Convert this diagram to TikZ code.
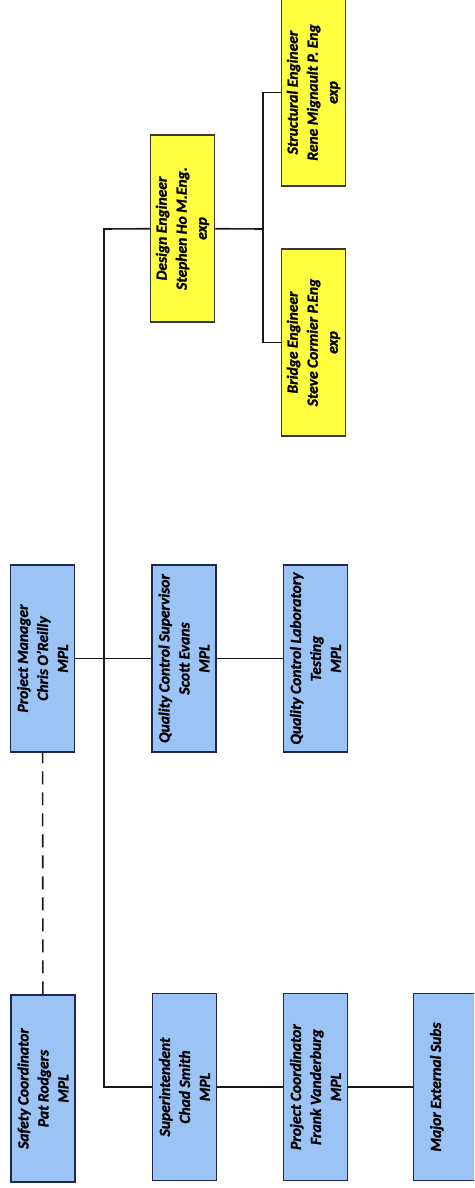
\documentclass[tikz,border=0pt]{standalone}
\usepackage{fontspec}
\setmainfont{Carlito}[BoldItalicFeatures={FakeBold=1.6}]
\definecolor{boxblue}{RGB}{155,195,245}
\definecolor{blueedge}{RGB}{30,40,80}
\definecolor{boxyellow}{RGB}{255,255,64}
\definecolor{yellowedge}{RGB}{55,55,55}
\definecolor{wire}{RGB}{25,25,25}
\begin{document}
\begin{tikzpicture}[x=1pt,y=-1pt,
  orgbox/.style={rotate=90, minimum width=187pt, minimum height=64pt, inner sep=0pt,
    align=center, font=\fontsize{15.5}{20}\selectfont\bfseries\itshape, line width=1.5pt},
  bluebox/.style={orgbox, fill=boxblue, draw=blueedge},
  yellowbox/.style={orgbox, fill=boxyellow, draw=yellowedge},
  wireline/.style={draw=wire, line width=1.6pt},
  thinwire/.style={draw=wire, line width=1.1pt}]
\useasboundingbox (0,0) rectangle (474,1188);
\clip (0,0) rectangle (474,1188);
% top row (design)
\node[yellowbox] (se) at (313.5,92.5) {Structural Engineer\\Rene Mignault P. Eng\\exp};
\node[yellowbox] (de) at (182.5,228.5) {Design Engineer\\Stephen Ho M.Eng.\\exp};
\node[yellowbox] (be) at (313.5,342.5) {Bridge Engineer\\Steve Cormier P.Eng\\exp};
% middle row
\node[bluebox] (pm) at (42.5,658.5) {Project Manager\\Chris O’Reilly\\MPL};
\node[bluebox] (qcs) at (184,658.5) {Quality Control Supervisor\\Scott Evans\\MPL};
\node[bluebox] (qcl) at (315.5,658.5) {Quality Control Laboratory\\Testing\\MPL};
% bottom row
\node[bluebox] (sc) at (43,1088.5) {Safety Coordinator\\Pat Rodgers\\MPL};
\node[bluebox] (sup) at (184.5,1087) {Superintendent\\Chad Smith\\MPL};
\node[bluebox] (pc) at (315.5,1087) {Project Coordinator\\Frank Vanderburg\\MPL};
\node[bluebox] (mes) at (445.5,1087) {Major External Subs\\[0pt]~};
% coordinates
\coordinate (tk) at (104,229);
\coordinate (br) at (263,229);
% connectors
\draw[wireline] (de) -- (tk) |- (sup);
\draw[wireline] (pm) -- (qcs);
\draw[wireline] (qcs) -- (qcl);
\draw[wireline] (sup) -- (pc);
\draw[thinwire] (pc) -- (mes);
\draw[wireline] (de) -- (br);
\draw[wireline] (se) -| (br) |- (be);
\draw[wireline, dash pattern=on 13pt off 8pt] (sc) -- (pm);
\end{tikzpicture}
\end{document}
